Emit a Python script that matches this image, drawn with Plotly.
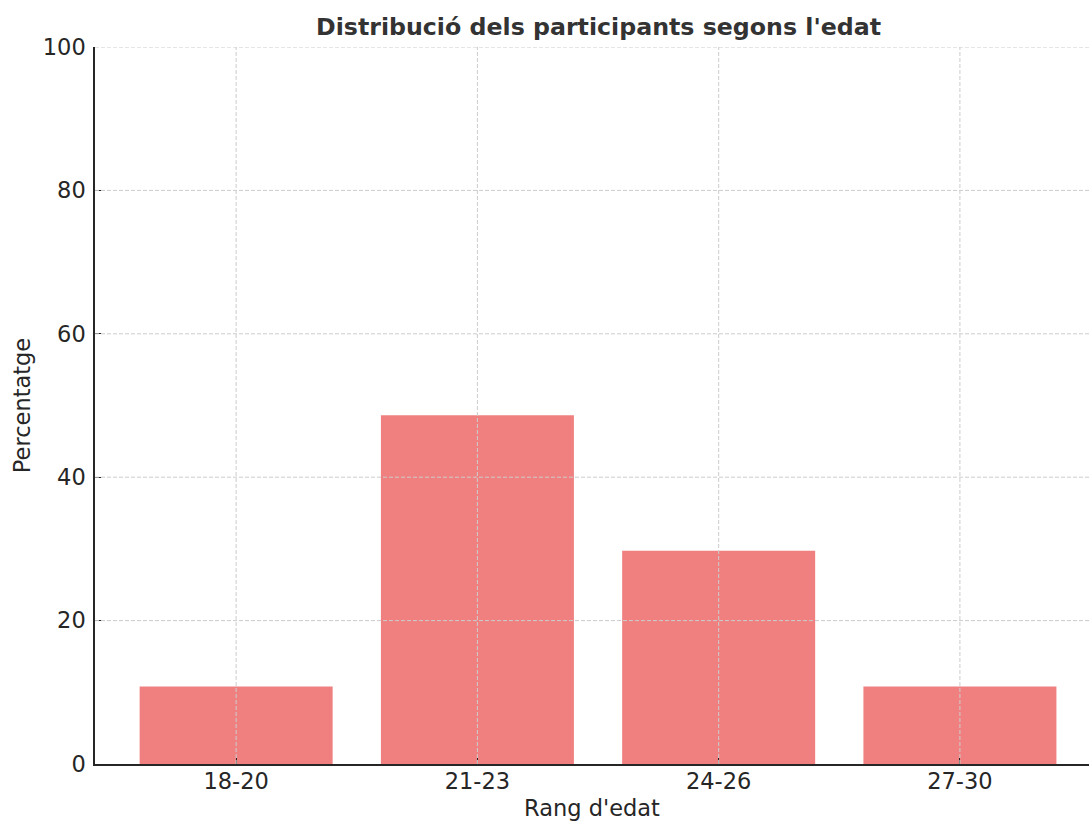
import plotly.graph_objects as go

categories = ["18-20", "21-23", "24-26", "27-30"]
percentages = [10.81, 48.65, 29.73, 10.81]
y_ticks = [0, 20, 40, 60, 80, 100]

title_text = "Distribució dels participants segons l'edat"
x_title = "Rang d'edat"
y_title = "Percentatge"

font_family = "DejaVu Sans, Verdana, sans-serif"
grid_color = "#cccccc"
grid_dash = "4px,2px"
fs = 22.5

fig = go.Figure()
fig.add_trace(go.Bar(
    x=list(range(len(categories))),
    y=percentages,
    width=0.8,
    marker=dict(color="#F08080", line=dict(width=0)),
    hoverinfo="x+y",
))

shapes = []
for t in y_ticks[1:]:
    shapes.append(dict(type="line", xref="paper", yref="y", x0=0, x1=1, y0=t, y1=t,
                       line=dict(color=grid_color, width=1, dash=grid_dash), layer="above"))
for i in range(len(categories)):
    shapes.append(dict(type="line", xref="x", yref="paper", x0=i, x1=i, y0=0, y1=1,
                       line=dict(color=grid_color, width=1, dash=grid_dash), layer="above"))

fig.update_layout(
    width=1089, height=823,
    margin=dict(l=95, r=0, t=47, b=59),
    paper_bgcolor="white", plot_bgcolor="white",
    font=dict(family=font_family, size=fs, color="#262626"),
    title=dict(text="<b>" + title_text + "</b>", x=(598.5 - 95) / 994, xanchor="center",
               xref="paper", y=1 - 27 / 823, yanchor="middle",
               font=dict(size=23.7, color="#333333")),
    showlegend=False,
    shapes=shapes,
)

fig.update_xaxes(
    range=[-0.585, 3.535],
    tickmode="array", tickvals=list(range(len(categories))), ticktext=categories,
    showgrid=False, zeroline=False, automargin=False,
    showline=True, linecolor="#262626", linewidth=1.5,
    ticks="inside", ticklen=6, tickwidth=1.3, tickcolor="#262626",
    ticklabelstandoff=-4,
    title=dict(text=x_title, standoff=7, font=dict(size=fs)),
    tickfont=dict(size=fs),
)
fig.update_yaxes(
    range=[0, 100],
    tickmode="array", tickvals=y_ticks,
    showgrid=False, zeroline=False, automargin=False,
    showline=True, linecolor="#262626", linewidth=1.5,
    ticks="inside", ticklen=6, tickwidth=1.3, tickcolor="#262626",
    ticklabelstandoff=3,
    title=dict(text=y_title, standoff=6, font=dict(size=fs)),
    tickfont=dict(size=fs),
)

fig.write_html(
    "out.html",
    config={"displayModeBar": False},
    post_script="document.body.style.margin='0';document.documentElement.style.overflow='hidden';",
)
